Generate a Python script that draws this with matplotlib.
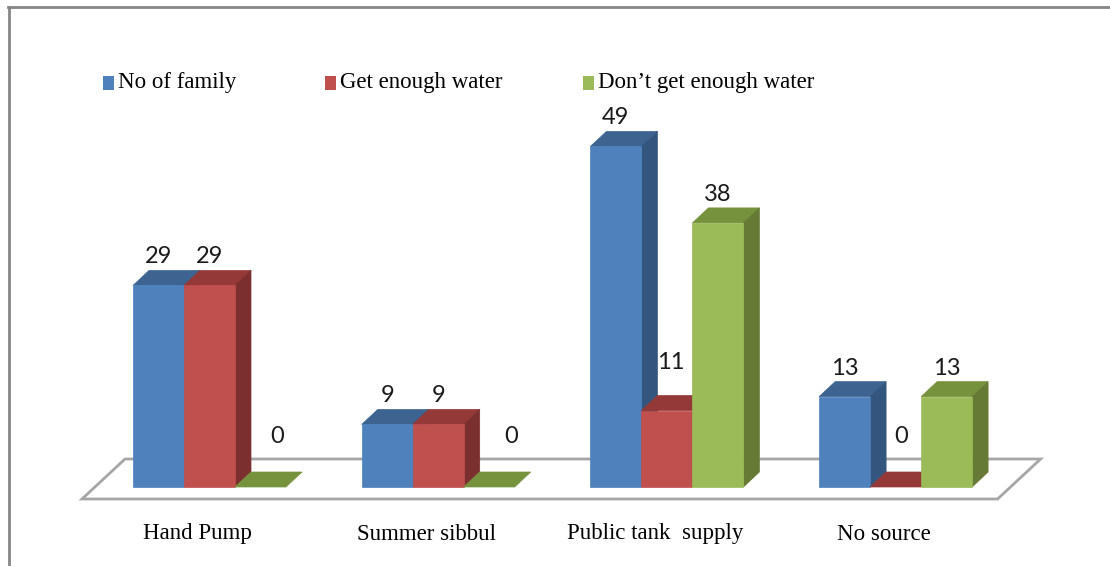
import matplotlib
matplotlib.use("Agg")
import matplotlib.pyplot as plt
from matplotlib.patches import Polygon, Rectangle
from matplotlib.lines import Line2D

categories = ["Hand Pump", "Summer sibbul", "Public tank  supply", "No source"]
series_names = ["No of family", "Get enough water", "Don\u2019t get enough water"]
no_of_family = [29, 9, 49, 13]
get_enough = [29, 9, 11, 0]
dont_get_enough = [0, 0, 38, 13]

# front / top / side shades, Excel 2007 style
front_colors = ["#4f81bd", "#c0504d", "#9bbb59"]
top_colors = ["#3d6491", "#943937", "#77923c"]
side_colors = ["#34557d", "#7b2f2e", "#667a35"]

W, H = 1110, 566
SX = 228.7   # px per category unit
SY = 6.95    # px per value unit
X0 = 209.5   # pixel x of first group centre
Y0 = 487     # pixel y (from top) of value 0

fig = plt.figure(figsize=(W / 100, H / 100), dpi=100)
ax = fig.add_axes([0, 0, 1, 1])
ax.set_xlim(-X0 / SX, (W - X0) / SX)
ax.set_ylim(-(H - Y0) / SY, Y0 / SY)
ax.axis("off")

bw = 51 / SX
dx = 16 / SX
dy = 15 / SY

# floor
fy_front = -12 / SY
fy_back = 28 / SY
first_left = -1.5 * bw
last_right = len(categories) - 1 + 1.5 * bw
floor = Polygon(
    [(first_left - bw, fy_front), (last_right + 0.5 * bw, fy_front),
     (last_right + 0.5 * bw + 43 / SX, fy_back), (first_left - bw + 43 / SX, fy_back)],
    closed=True, facecolor="white", edgecolor="#a6a6a6", linewidth=2, zorder=1)
ax.add_patch(floor)

# label nudges (px) for the low labels Excel lifts
nudges = {(0, 2): (17, 22), (1, 2): (22, 22), (2, 1): (4, 20), (3, 1): (6, 22)}

label_font = ["Liberation Sans Narrow", "Lato"]

all_series = [no_of_family, get_enough, dont_get_enough]
for g in range(len(categories)):
    for s, vals in enumerate(all_series):
        v = vals[g]
        left = g + (s - 1.5) * bw
        right = left + bw
        z = 2 + s
        top = Polygon([(left, v), (right, v), (right + dx, v + dy), (left + dx, v + dy)],
                      closed=True, facecolor=top_colors[s], edgecolor=top_colors[s],
                      linewidth=0.5, zorder=z)
        ax.add_patch(top)
        if v > 0:
            side = Polygon([(right, 0), (right + dx, dy), (right + dx, v + dy), (right, v)],
                           closed=True, facecolor=side_colors[s], edgecolor=side_colors[s],
                           linewidth=0.5, zorder=z)
            ax.add_patch(side)
            ax.bar(left, v, width=bw, align="edge", color=front_colors[s],
                   edgecolor=front_colors[s], linewidth=0.5, zorder=z)
        nx, ny = nudges.get((g, s), (0, 0))
        ax.text(left + bw / 2 + nx / SX, v + dy + (3 + ny) / SY, str(v),
                ha="center", va="bottom", fontsize=17, family=label_font,
                color="#1a1a1a", zorder=10)

for g, cat in enumerate(categories):
    ax.text(g - 12 / SX, -47 / SY, cat, ha="center", va="center",
            fontsize=16.5, family="Liberation Serif", color="black")

# legend
legend_x = [103, 325, 583]
for s, name in enumerate(series_names):
    fig.patches.append(Rectangle((legend_x[s] / W, 1 - 90 / H), 11 / W, 14 / H,
                                 transform=fig.transFigure, facecolor=front_colors[s],
                                 edgecolor="none"))
    fig.text((legend_x[s] + 15) / W, 1 - 83 / H, name, ha="left", va="center",
             fontsize=16.5, family="Liberation Serif", color="black")

# chart frame (top and left edges visible)
fig.add_artist(Line2D([8 / W, 1], [1 - 7 / H, 1 - 7 / H], transform=fig.transFigure,
                      color="#868686", linewidth=2))
fig.add_artist(Line2D([9 / W, 9 / W], [0, 1 - 7 / H], transform=fig.transFigure,
                      color="#868686", linewidth=2))

fig.savefig("out.png", dpi=100)
